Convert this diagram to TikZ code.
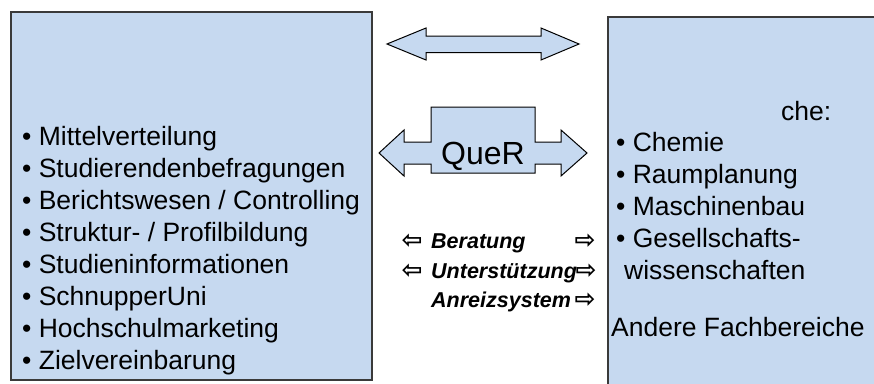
\documentclass[tikz,border=0pt]{standalone}
\usepackage{fontspec}
\setmainfont{Liberation Sans}
\newfontfamily\arrowfont{DejaVu Sans Bold}
\definecolor{boxfill}{HTML}{C6D9F0}
\definecolor{boxline}{HTML}{3A3A3A}
\begin{document}
\begin{tikzpicture}[x=1pt,y=-1pt,
  panel/.style={draw=boxline,line width=1.3pt,fill=boxfill},
  shapeline/.style={draw=black,line width=1pt,fill=boxfill,line join=miter},
  item/.style={anchor=base west,inner sep=0pt,font=\fontsize{26.5}{32}\selectfont},
  midlab/.style={anchor=base west,inner sep=0pt,font=\fontsize{21.5}{26}\selectfont\bfseries\itshape},
  arr/.style={anchor=base,inner sep=0pt,font=\fontsize{25}{30}\selectfont\arrowfont}]
\useasboundingbox (0,0) rectangle (874,383);
\clip (0,0) rectangle (874,383);
% panels
\draw[panel] (11,12) rectangle (372,380);
\draw[panel] (608,17) rectangle (890,400);
% top double arrow
\draw[shapeline] (387,44) -- (426,28) -- (426,36) -- (541,36) -- (541,28) -- (579,44)
  -- (541,60) -- (541,52.5) -- (426,52.5) -- (426,60) -- cycle;
% QueR callout
\draw[shapeline] (431,107) -- (535,107) -- (535,142) -- (561,142) -- (561,130) -- (587,153)
  -- (561,176) -- (561,164) -- (535,164) -- (535,173) -- (431,173) -- (431,164)
  -- (404,164) -- (404,176) -- (379,153) -- (404,130) -- (404,142) -- (431,142) -- cycle;
\node[anchor=base,inner sep=0pt,font=\fontsize{32}{38}\selectfont] (quer) at (483,164.5) {QueR};
% left list
\foreach \t [count=\i] in {Mittelverteilung,Studierendenbefragungen,Berichtswesen / Controlling,Struktur- / Profilbildung,Studieninformationen,SchnupperUni,Hochschulmarketing,Zielvereinbarung}
  \node[item] (L\i) at (22,{145+32*(\i-1)}) {•\ \t};
% right list
\node[item] (rhead) at (781,120) {che:};
\node[item] (R1) at (616,151) {•\ Chemie};
\node[item] (R2) at (616,183) {•\ Raumplanung};
\node[item] (R3) at (616,215) {•\ Maschinenbau};
\node[item] (R4) at (616,247) {•\ Gesellschafts-};
\node[item] (R5) at (624,279) {wissenschaften};
\node[item] (R6) at (611,336) {Andere Fachbereiche};
% middle labels
\node[midlab] (m1) at (431,248) {Beratung};
\node[midlab] (m2) at (431,278) {Unterstützung};
\node[midlab] (m3) at (431,307) {Anreizsystem};
\node[arr] (a1l) at (412,248) {⇦};
\node[arr] (a1r) at (585,248) {⇨};
\node[arr] (a2l) at (412,278) {⇦};
\node[arr] (a2r) at (586,278) {⇨};
\node[arr] (a3r) at (585,307) {⇨};
\end{tikzpicture}
\end{document}
